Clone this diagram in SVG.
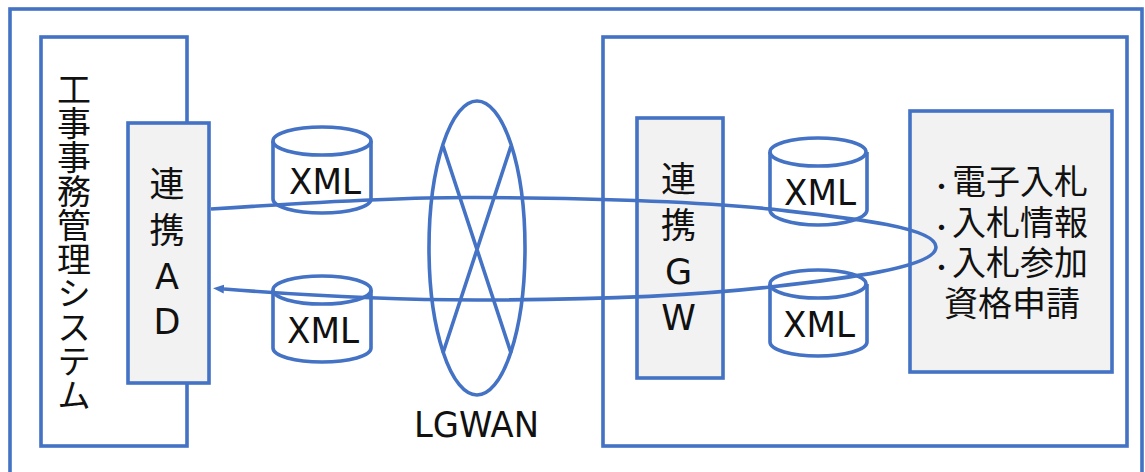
<svg xmlns="http://www.w3.org/2000/svg" width="1145" height="472" viewBox="0 0 1145 472">
<style>
.b{fill:none;stroke:#4472c4;stroke-width:3.6}
.g{fill:#f2f2f2;stroke:#4472c4;stroke-width:3.6}
.c{fill:#fff;stroke:#4472c4;stroke-width:3.6}
text{font-family:"DejaVu Sans","Noto Sans CJK JP",sans-serif;fill:#111;font-size:35px;text-anchor:middle}
.j{font-family:"Noto Sans CJK JP",sans-serif}
.s{text-anchor:start;font-size:34px}
.d{font-size:21px;font-weight:700}
</style>
<defs>
<marker id="arrow" markerUnits="userSpaceOnUse" markerWidth="12" markerHeight="10" refX="0" refY="5" orient="auto"><path d="M0,0.5 L11,5 L0,9.5Z" fill="#4472c4"/></marker>
</defs>
<rect width="1145" height="472" fill="#fff"/>
<g id="frame"><rect class="b" x="10" y="9" width="1132" height="480"/></g>
<g id="system"><rect class="b" x="41" y="37" width="146" height="409"/>
<text class="j" x="74" y="72" style="writing-mode:vertical-rl;text-anchor:start;font-size:34px">工事事務管理システム</text></g>
<g id="ad"><rect class="g" x="128" y="123" width="81" height="260"/>
<text class="j" x="167" y="197">連</text><text class="j" x="167" y="243">携</text><text x="167" y="289">A</text><text x="167" y="334">D</text></g>
<g id="xml1"><path class="c" d="M273,141V199C273,207 295,213 322,213S371,207 371,199V141"/><ellipse class="c" cx="322" cy="141" rx="49" ry="14"/><text x="325" y="194" textLength="72" lengthAdjust="spacingAndGlyphs">XML</text></g>
<g id="xml2"><path class="c" d="M273,290V348C273,356 295,362 322,362S371,356 371,348V290"/><ellipse class="c" cx="322" cy="290" rx="49" ry="14"/><text x="323" y="343" textLength="72" lengthAdjust="spacingAndGlyphs">XML</text></g>
<g id="lgwan"><ellipse class="b" cx="477" cy="248" rx="48" ry="147"/><path class="b" d="M443,146L511,353M511,146L443,353"/><text x="476.500" y="437" textLength="125" lengthAdjust="spacingAndGlyphs">LGWAN</text></g>
<g id="right"><rect class="b" x="603" y="37" width="524" height="409"/></g>
<g id="gw"><rect class="g" x="637" y="118" width="86" height="260"/>
<text class="j" x="678.500" y="192">連</text><text class="j" x="678.500" y="238">携</text><text x="678.500" y="284">G</text><text x="678.500" y="330">W</text></g>
<g id="xml3"><path class="c" d="M770,152V210C770,218 792,225 818,225S867,218 867,210V152"/><ellipse class="c" cx="818" cy="152" rx="48" ry="14"/><text x="820" y="205" textLength="72" lengthAdjust="spacingAndGlyphs">XML</text></g>
<g id="xml4"><path class="c" d="M770,284V342C770,350 792,356 818,356S867,350 867,342V284"/><ellipse class="c" cx="818" cy="284" rx="48" ry="14"/><text x="819" y="337" textLength="72" lengthAdjust="spacingAndGlyphs">XML</text></g>
<g id="services"><rect class="g" x="910" y="111" width="202" height="261"/>
<text class="j s" x="931" y="194"><tspan class="d">・</tspan><tspan x="952">電子入札</tspan></text><text class="j s" x="931" y="235"><tspan class="d">・</tspan><tspan x="952">入札情報</tspan></text><text class="j s" x="931" y="275"><tspan class="d">・</tspan><tspan x="952">入札参加</tspan></text><text class="j s" x="944" y="316">資格申請</text></g>
<g id="connectors"><path class="b" marker-end="url(#arrow)" d="M211,209C300,203 400,197 476,197.500C600,198 700,202 770,209C840,217 936,226 936,247C936,268 840,279 770,287C700,295 600,300 476,300C400,300 300,295 224,289"/></g>
</svg>
